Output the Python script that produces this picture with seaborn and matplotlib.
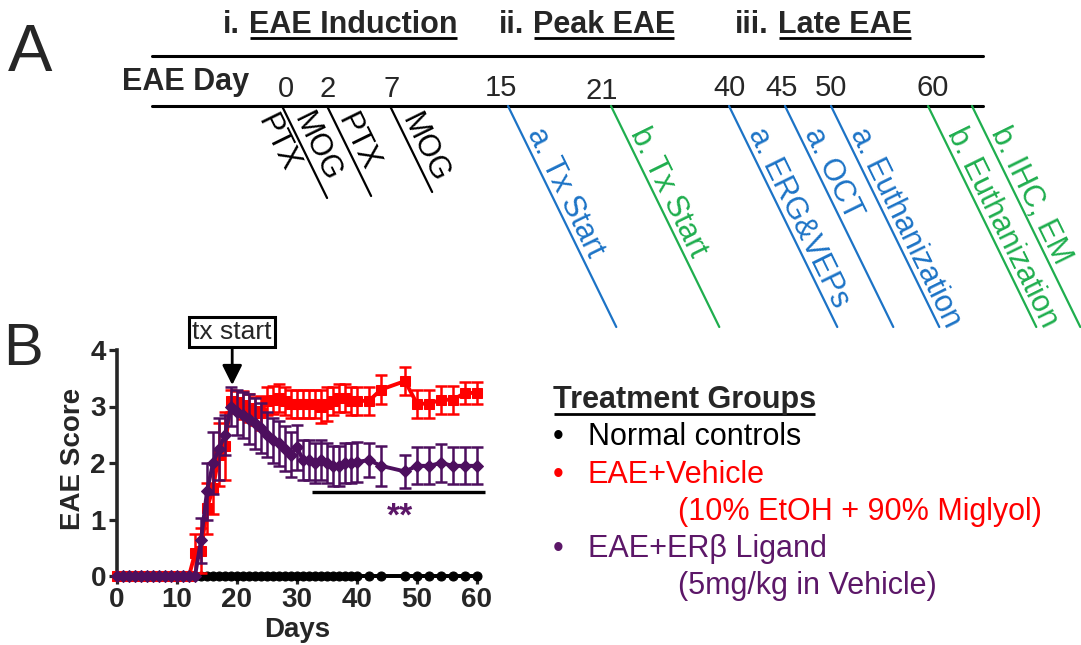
import numpy as np
import pandas as pd
import seaborn as sns
import matplotlib.pyplot as plt

# ---- data ----
days = list(range(0, 41)) + [42, 44, 48, 50, 52, 54, 56, 58, 60]

normal = [0.0] * len(days)

vehicle = ([0.0] * 13 +
           [0.40, 0.45, 1.20, 1.55, 2.15, 2.30, 3.10, 3.08, 3.02, 2.98, 2.92, 2.88,
            3.10, 3.12, 3.15, 3.10, 3.05, 3.05, 3.05, 3.05, 3.05, 3.00, 3.05,
            3.10, 3.15, 3.15, 3.10, 3.10] +
           [3.10, 3.30, 3.45, 3.05, 3.05, 3.12, 3.12, 3.24, 3.24])
vehicle_sem = ([0.0] * 13 +
               [0.35, 0.40, 0.45, 0.45, 0.55, 0.60, 0.20, 0.20, 0.25, 0.25, 0.25, 0.30,
                0.25, 0.25, 0.25, 0.25, 0.25, 0.25, 0.25, 0.25, 0.25, 0.30, 0.30,
                0.25, 0.25, 0.25, 0.25, 0.25] +
               [0.25, 0.25, 0.25, 0.25, 0.25, 0.25, 0.25, 0.20, 0.20])

ligand = ([0.0] * 14 +
          [0.63, 1.50, 2.00, 2.25, 2.50, 3.00, 2.90, 2.85, 2.78, 2.70, 2.62, 2.50,
           2.40, 2.35, 2.25, 2.15, 2.28, 2.05, 2.05, 2.00, 2.05, 2.00, 1.95, 1.95,
           2.00, 2.00, 2.02] +
          [2.05, 1.95, 1.85, 1.95, 1.95, 2.00, 1.95, 1.95, 1.95])
ligand_sem = ([0.0] * 14 +
              [0.40, 0.50, 0.55, 0.55, 0.35, 0.35, 0.40, 0.40, 0.45, 0.45, 0.45, 0.40,
               0.40, 0.40, 0.40, 0.40, 0.40, 0.35, 0.35, 0.35, 0.35, 0.35, 0.35, 0.35,
               0.35, 0.35, 0.35] +
              [0.30, 0.35, 0.30, 0.33, 0.33, 0.33, 0.33, 0.33, 0.33])

groups = ['Normal controls', 'EAE+Vehicle', 'EAE+ERβ Ligand']
group_notes = ['', '(10% EtOH + 90% Miglyol)', '(5mg/kg in Vehicle)']

timeline_days = ['0', '2', '7', '15', '21', '40', '45', '50', '60']
phases = [('i.', 'EAE Induction'), ('ii.', 'Peak EAE'), ('iii.', 'Late EAE')]
events = ['PTX', 'MOG', 'PTX', 'MOG', 'a. Tx Start', 'b. Tx Start', 'a. ERG&VEPs',
          'a. OCT', 'a. Euthanization', 'b. Euthanization', 'b. IHC, EM']

# ---- styling ----
sns.set_style('ticks')
plt.rcParams['font.family'] = ['Liberation Sans', 'DejaVu Sans']

RED = '#FF0000'
PURPLE = '#4D0F5E'
PURPLE_TXT = '#5C1768'
BLUE = '#1C73C6'
GREEN = '#1FAE4E'

W, H = 1081, 645
fig = plt.figure(figsize=(W / 100, H / 100), dpi=100)

# overlay in pixel coordinates for the schematic / legend
over = fig.add_axes([0, 0, 1, 1])
over.set_xlim(0, W)
over.set_ylim(H, 0)
over.axis('off')
renderer = fig.canvas.get_renderer()


def underline(t, y, lw=2.0):
    bb = t.get_window_extent(renderer)
    inv = over.transData.inverted()
    (x0, _), (x1, _) = inv.transform([[bb.x0, bb.y0], [bb.x1, bb.y1]])
    over.plot([x0 + 1, x1 - 1], [y, y], color='k', lw=lw, solid_capstyle='butt')


# ---- panel A : timeline ----
over.text(8, 71, 'A', fontsize=48, va='baseline')
over.text(3, 365, 'B', fontsize=43, va='baseline')

phase_x = [(223, 249), (499, 533), (735, 778)]
for (num, name), (xn, xt) in zip(phases, phase_x):
    over.text(xn, 33, num, fontsize=22, fontweight='bold', va='baseline')
    t = over.text(xt, 33, name, fontsize=22, fontweight='bold', va='baseline')
    underline(t, 38)

over.plot([152, 983], [56, 56], color='k', lw=2.2)
over.plot([152, 983], [106, 106], color='k', lw=2.2)
over.text(122, 90, 'EAE Day', fontsize=22, fontweight='bold', va='baseline')

day_x = [286, 328, 392, 501, 602, 729, 782, 831, 933]
day_y = [97, 97, 97, 96, 99, 96, 96, 96, 96]
for d, x, y in zip(timeline_days, day_x, day_y):
    over.text(x, y, d, fontsize=21, ha='center', va='baseline')

line_x = [282, 327, 390, 508, 611, 729, 785, 831, 928, 972]
line_dy = [92, 90, 86] + [221] * 7
line_col = ['k', 'k', 'k', BLUE, GREEN, BLUE, BLUE, BLUE, GREEN, GREEN]
slope = 0.49
ux, uy = np.array([slope, 1.0]) / np.hypot(slope, 1.0)
nx, ny = uy, -ux
ang = -np.degrees(np.arctan2(1.0, slope))
for x0, dy, c in zip(line_x, line_dy, line_col):
    over.plot([x0, x0 + slope * dy], [106, 106 + dy], color=c, lw=1.6)

# (line index, side offset, start along line)
event_pos = [(0, -20, 2), (0, 13, 16), (1, 12, 16), (2, 13, 17)] + \
            [(i, 13, 32) for i in range(3, 10)]
for lab, (li, off, s) in zip(events, event_pos):
    c = line_col[li]
    px = line_x[li] + ux * s + nx * off
    py = 106 + uy * s + ny * off
    over.text(px, py, lab, color=c, fontsize=22, rotation=ang,
              rotation_mode='anchor', ha='left', va='center')

# ---- legend text ----
t = over.text(553, 408, 'Treatment Groups', fontsize=22, fontweight='bold', va='baseline')
underline(t, 414)
row_y = [445, 483, 557]
note_y = [None, 520, 594]
row_col = ['k', RED, PURPLE_TXT]
for g, note, y, ny_, c in zip(groups, group_notes, row_y, note_y, row_col):
    over.text(558, y, '•', fontsize=22, color=c, ha='center', va='baseline')
    over.text(588, y, g, fontsize=22, color=c, va='baseline')
    if note:
        over.text(678, ny_, note, fontsize=22, color=c, va='baseline')

# ---- panel B : clinical score ----
ax = fig.add_axes([117 / W, (H - 576) / H, 360 / W, 226 / H])
df = pd.DataFrame({
    'day': days * 3,
    'score': normal + vehicle + ligand,
    'sem': [0.0] * len(days) + vehicle_sem + ligand_sem,
    'group': sum([[g] * len(days) for g in groups], []),
})
styles = {
    'Normal controls': dict(color='k', marker='o', ms=6.5, z=3),
    'EAE+Vehicle': dict(color=RED, marker='s', ms=7.2, z=4),
    'EAE+ERβ Ligand': dict(color=PURPLE, marker='D', ms=6.3, z=5),
}
for g in groups:
    st = styles[g]
    sub = df[df['group'] == g]
    eb = sub[sub['sem'] > 0]
    if len(eb):
        ax.errorbar(eb['day'], eb['score'], yerr=eb['sem'], fmt='none',
                    ecolor=st['color'], elinewidth=1.8, capsize=4.5, capthick=1.8,
                    zorder=st['z'], clip_on=False)
    sns.lineplot(data=sub, x='day', y='score', ax=ax, color=st['color'],
                 marker=st['marker'], markersize=st['ms'], markeredgecolor=st['color'],
                 linewidth=2.8, zorder=st['z'] + 0.1, clip_on=False, legend=False,
                 errorbar=None)

ax.set_xlim(0, 60)
ax.set_ylim(0, 4)
ax.set_xticks([0, 10, 20, 30, 40, 50, 60])
ax.set_yticks([0, 1, 2, 3, 4])
sns.despine(ax=ax)
for sp in ['left', 'bottom']:
    ax.spines[sp].set_linewidth(2.6)
ax.tick_params(width=2.3, length=6, labelsize=20, pad=2)
for lab in ax.get_xticklabels() + ax.get_yticklabels():
    lab.set_fontweight('bold')
ax.set_xlabel('Days', fontsize=20, fontweight='bold')
ax.set_ylabel('EAE Score', fontsize=20, fontweight='bold')
ax.xaxis.set_label_coords(0.5, -0.18)
ax.yaxis.set_label_coords(-0.085, 0.52)

# significance bar
ax.plot([32.5, 61.3], [1.49, 1.49], color='k', lw=2.4, clip_on=False,
        solid_capstyle='butt')
ax.text(47.2, 0.89, '**', color=PURPLE_TXT, fontsize=24, fontweight='bold',
        ha='center', va='baseline')

# treatment start marker
ax.annotate('tx start', xy=(19.2, 3.38), xytext=(19.2, 4.32), textcoords='data',
            ha='center', va='center', fontsize=19,
            bbox=dict(boxstyle='square,pad=0.12', fc='white', ec='k', lw=2.2),
            arrowprops=dict(arrowstyle='-|>,head_length=0.6,head_width=0.3',
                            color='k', lw=2, mutation_scale=20,
                            shrinkA=0, shrinkB=0),
            annotation_clip=False)

fig.savefig('out.png', dpi=100)
